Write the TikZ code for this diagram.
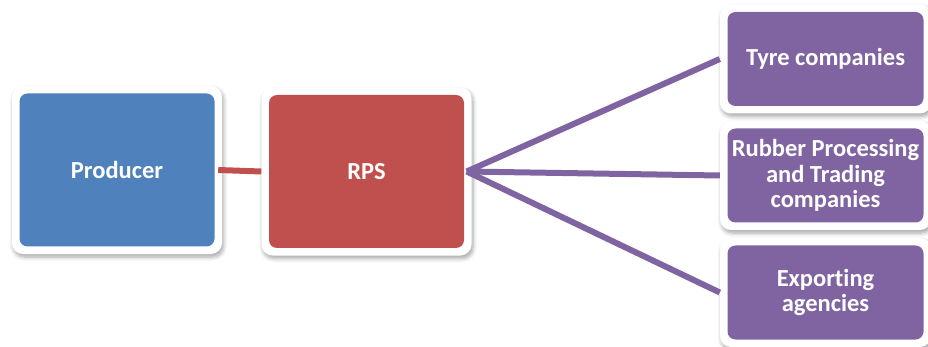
\documentclass[tikz,border=0pt]{standalone}
\usepackage{fontspec}
\setmainfont{Carlito}[Ligatures=NoCommon]
\usetikzlibrary{shadows.blur}
\definecolor{prodblue}{HTML}{4F81BD}
\definecolor{rpsred}{HTML}{C0504D}
\definecolor{buyerpurple}{HTML}{8064A2}
\tikzset{
  card/.style={
    fill=white, rounded corners=11pt, inner sep=0pt,
    blur shadow={shadow xshift=1.5pt, shadow yshift=-3pt,
      shadow blur radius=4pt, shadow blur steps=6, shadow opacity=35},
    path picture={\fill[#1, rounded corners=8pt]
      ([shift={(7.5pt,-7.5pt)}]path picture bounding box.north west) rectangle
      ([shift={(-7.5pt,7.5pt)}]path picture bounding box.south east);},
    text=white, align=center,
    font=\bfseries\fontsize{24.5}{25.5}\selectfont},
  bigcard/.style={card=#1, minimum width=210pt, minimum height=168pt},
  smallcard/.style={card=#1, minimum width=211pt, minimum height=109pt},
  link/.style={line width=6pt, draw=#1}
}
\begin{document}
\begin{tikzpicture}[x=1pt, y=-1pt]
  \useasboundingbox (0,0) rectangle (928,347);
  % source nodes
  \node[bigcard=prodblue] (prod) at (117,170) {Producer};
  \node[bigcard=rpsred] (rps) at (366.5,171.5) {RPS};
  % buyer nodes
  \node[smallcard=buyerpurple] (tyre) at (825.5,59) {Tyre companies};
  \node[smallcard=buyerpurple] (rubber) at (825.5,175.5) {Rubber Processing\\and Trading\\companies};
  \node[smallcard=buyerpurple] (export) at (825.5,292.5) {Exporting\\agencies};
  % connectors
  \draw[link=rpsred] ([xshift=-4pt]prod.east) -- (rps.west);
  \draw[link=buyerpurple] ([xshift=-5pt]rps.east) -- (tyre.west);
  \draw[link=buyerpurple] ([xshift=-5pt]rps.east) -- (rubber.west);
  \draw[link=buyerpurple] ([xshift=-5pt]rps.east) -- (export.west);
\end{tikzpicture}
\end{document}
